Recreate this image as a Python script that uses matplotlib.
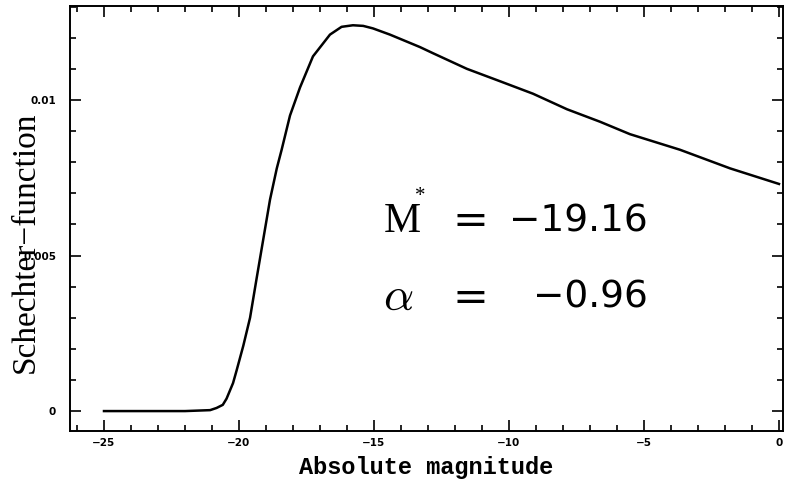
import numpy as np
import matplotlib
matplotlib.use("Agg")
import matplotlib.pyplot as plt
from matplotlib.ticker import MultipleLocator

# values
mag = [-25.0, -23.0, -22.0, -21.07, -20.83, -20.6, -20.46, -20.22, -20.09,
       -19.84, -19.59, -19.34, -18.85, -18.6, -18.42, -18.11, -17.74,
       -17.26, -16.9, -16.63, -16.2, -15.78, -15.4, -15.04, -14.41, -13.3,
       -12.81, -11.56, -10.33, -9.11, -7.85, -6.63, -5.52, -3.67, -1.81, 0.0]
phi = [0.0, 0.0, 0.0, 0.00003, 0.0001, 0.0002, 0.0004, 0.0009, 0.0013,
       0.0021, 0.0030, 0.0043, 0.0068, 0.0078, 0.0084, 0.0095, 0.0104,
       0.0114, 0.0118, 0.0121, 0.01235, 0.0124, 0.01238, 0.0123, 0.0121,
       0.0117, 0.0115, 0.0110, 0.0106, 0.0102, 0.0097, 0.0093, 0.0089,
       0.0084, 0.0078, 0.0073]

xticks = [-25, -20, -15, -10, -5, 0]
xlabels = ["\u221225", "\u221220", "\u221215", "\u221210", "\u22125", "0"]
yticks = [0, 0.005, 0.01]
ylabels = ["0", "0.005", "0.01"]

fig = plt.figure(figsize=(8.07, 4.86), dpi=100)
ax = fig.add_axes([0.0867, 0.1132, 0.8836, 0.8745])

ax.plot(mag, phi, color="black", lw=1.8)

ax.set_xlim(-26.26, 0.15)
ax.set_ylim(-0.00064, 0.01302)

ax.set_xticks(xticks)
ax.set_xticklabels(xlabels, fontsize=7.5, fontweight="bold", family="DejaVu Sans")
ax.set_yticks(yticks)
ax.set_yticklabels(ylabels, fontsize=7.5, fontweight="bold", family="DejaVu Sans")
ax.xaxis.set_minor_locator(MultipleLocator(1))
ax.yaxis.set_minor_locator(MultipleLocator(0.001))
ax.tick_params(which="both", direction="in", top=True, right=True, width=1.2)
ax.tick_params(which="major", length=8, pad=5)
ax.tick_params(which="minor", length=4)
ax.tick_params(axis="y", which="major", pad=10)
for s in ax.spines.values():
    s.set_linewidth(1.4)

ax.set_xlabel("Absolute magnitude", family="Liberation Mono", fontweight="bold",
              fontsize=17, labelpad=6)
# y label placed by hand, it sits close to the figure edge
fig.text(26 / 807, 1 - 242 / 486, "Schechter\u2212function", family="Liberation Serif",
         fontsize=24, rotation=90, ha="center", va="center")

# annotation with the fit parameters
ax.text(-14.65, 0.0061, "M", family="Liberation Serif", fontsize=30, va="center")
ax.text(-13.5, 0.0069, "*", family="Liberation Serif", fontsize=15, va="center")
ax.text(-12.1, 0.0061, "=", family="DejaVu Sans", fontsize=31, va="center")
ax.text(-4.85, 0.0061, "\u221219.16", family="DejaVu Sans", fontsize=27,
        va="center", ha="right")
ax.text(-14.65, 0.00365, r"$\alpha$", fontsize=34, va="center", math_fontfamily="cm")
ax.text(-12.1, 0.00365, "=", family="DejaVu Sans", fontsize=31, va="center")
ax.text(-4.85, 0.00365, "\u22120.96", family="DejaVu Sans", fontsize=27,
        va="center", ha="right")

fig.savefig("out.png", dpi=100)
